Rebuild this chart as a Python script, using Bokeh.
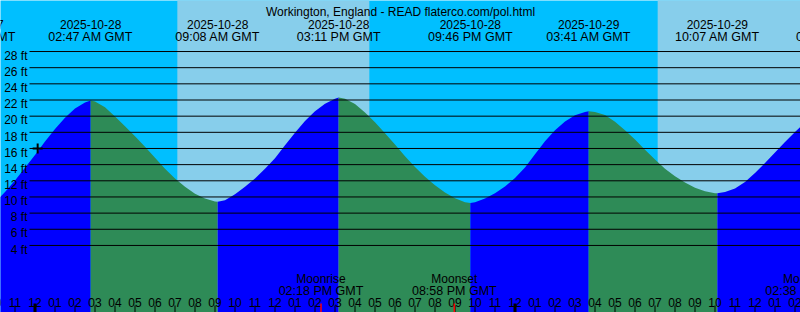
import pandas as pd
from bokeh.plotting import figure
from bokeh.models import Range1d
from bokeh.core.properties import value
from bokeh.embed import file_html
from bokeh.resources import INLINE

# ---------------- data ----------------
title_text = "Workington, England - READ flaterco.com/pol.html"
ref_time = pd.Timestamp("2025-10-28 00:00")

# tide height (ft) vs hours after 2025-10-28 00:00 GMT
tide_hours = [-2.0, -1.5, -1.0, -0.5, 0.0, 0.5, 1.0, 1.5, 2.0, 2.5, 2.783,
              3.0, 3.5, 4.0, 4.5, 5.0, 5.5, 6.0, 6.5, 7.0, 7.5, 8.0, 8.5, 9.0, 9.133,
              9.5, 10.0, 10.5, 11.0, 11.5, 12.0, 12.5, 13.0, 13.5, 14.0, 14.5, 15.0, 15.183,
              15.5, 16.0, 16.5, 17.0, 17.5, 18.0, 18.5, 19.0, 19.5, 20.0, 20.5, 21.0, 21.5, 21.767,
              22.0, 22.5, 23.0, 23.5, 24.0, 24.5, 25.0, 25.5, 26.0, 26.5, 27.0, 27.5, 27.683,
              28.0, 28.5, 29.0, 29.5, 30.0, 30.5, 31.0, 31.5, 32.0, 32.5, 33.0, 33.5, 34.0, 34.117,
              34.5, 35.0, 35.5, 36.0, 36.5, 37.0, 37.5, 38.0, 38.5]
tide_ft = [9.35, 10.6, 12.05, 13.6, 15.2, 16.85, 18.4, 19.8, 20.95, 21.7, 21.95,
           21.8, 21.1, 19.95, 18.75, 17.5, 16.2, 14.85, 13.5, 12.3, 11.25, 10.4, 9.8, 9.45, 9.4,
           9.6, 10.35, 11.25, 12.3, 13.5, 14.8, 16.4, 17.95, 19.4, 20.6, 21.55, 22.15, 22.3,
           22.15, 21.5, 20.45, 19.25, 17.9, 16.5, 15.05, 13.7, 12.5, 11.45, 10.55, 9.85, 9.35, 9.25,
           9.35, 9.8, 10.45, 11.3, 12.35, 13.65, 15.3, 16.9, 18.25, 19.35, 20.1, 20.5, 20.6,
           20.5, 20.15, 19.3, 18.25, 17.1, 15.85, 14.65, 13.5, 12.55, 11.8, 11.15, 10.7, 10.47, 10.45,
           10.6, 11.05, 11.85, 12.95, 14.2, 15.5, 16.8, 18.05, 19.2]

tide_event_times = ["2025-10-27 20:54", "2025-10-28 02:47", "2025-10-28 09:08",
                    "2025-10-28 15:11", "2025-10-28 21:46", "2025-10-29 03:41",
                    "2025-10-29 10:07", "2025-10-29 16:10"]

sunrise_times = ["2025-10-28 07:07", "2025-10-29 07:08"]
sunset_times = ["2025-10-28 16:43", "2025-10-29 16:41"]

moon_event_names = ["Moonrise", "Moonset", "Moonrise"]
moon_event_times = ["2025-10-28 14:18", "2025-10-28 20:58", "2025-10-29 14:38"]

depth_ticks = [4, 6, 8, 10, 12, 14, 16, 18, 20, 22, 24, 26, 28]
hour_ticks = list(range(-2, 40))

now_time = "2025-10-28 00:08"
now_ft = 16.0

# ---------------- layout constants ----------------
W, H = 800, 312
PX_PER_HOUR = 20.0
X0_PX = 34.5            # pixel of 2025-10-28 00:00
PX_PER_FT = 8.08
TOP_FT = 22 + 99.5 / PX_PER_FT
BOT_FT = TOP_FT - H / PX_PER_FT
LEFT_H = -X0_PX / PX_PER_HOUR
RIGHT_H = (W - X0_PX) / PX_PER_HOUR

NIGHT = "#00BFFF"
DAY = "#87CEEB"
FLOOD = "#0000FF"
EBB = "#2E8B57"
FONT = value("Liberation Sans")
FS = "12px"


def hrs(ts):
    return (pd.Timestamp(ts) - ref_time).total_seconds() / 3600.0


def px2h(px):
    return (px - X0_PX) / PX_PER_HOUR


def py2ft(py):
    return TOP_FT - py / PX_PER_FT


p = figure(width=W, height=H, x_range=Range1d(LEFT_H, RIGHT_H), y_range=Range1d(BOT_FT, TOP_FT),
           output_backend="svg", toolbar_location=None, min_border=0,
           x_axis_type=None, y_axis_type=None,
           background_fill_color=NIGHT, border_fill_color=NIGHT, outline_line_color=None)

# day shading
p.quad(left=[hrs(t) for t in sunrise_times], right=[hrs(t) for t in sunset_times],
       bottom=BOT_FT - 5, top=TOP_FT + 5, fill_color=DAY, line_color=None)

# tide fill: split into monotone runs
n = len(tide_ft)
runs = []
start = 0
for i in range(1, n - 1):
    if (tide_ft[i] - tide_ft[i - 1]) * (tide_ft[i + 1] - tide_ft[i]) < 0:
        runs.append((start, i))
        start = i
runs.append((start, n - 1))
for a, b in runs:
    col = FLOOD if tide_ft[b] > tide_ft[a] else EBB
    p.varea(x=tide_hours[a:b + 1], y1=[BOT_FT - 5] * (b - a + 1), y2=tide_ft[a:b + 1],
            fill_color=col)

# depth lines and labels
p.segment(x0=[px2h(29)] * len(depth_ticks), x1=[RIGHT_H + 1] * len(depth_ticks),
          y0=depth_ticks, y1=depth_ticks, line_color="black", line_width=1)
p.text(x=[px2h(27)] * len(depth_ticks), y=[d - 4.2 / PX_PER_FT for d in depth_ticks],
       text=[f"{d} ft" for d in depth_ticks], text_align="right", text_baseline="alphabetic",
       text_font=FONT, text_font_size=FS, text_color="black")

# title
p.text(x=[px2h(400)], y=[py2ft(11.7)], text=[title_text], text_align="center",
       text_baseline="alphabetic", text_font=FONT, text_font_size=FS, text_color="black")

# tide event labels
ev_h = [hrs(t) for t in tide_event_times]
ev_date = [pd.Timestamp(t).strftime("%Y-%m-%d") for t in tide_event_times]
ev_time = [pd.Timestamp(t).strftime("%I:%M %p GMT") for t in tide_event_times]
p.text(x=ev_h, y=[py2ft(24)] * len(ev_h), text=ev_date, text_align="center",
       text_baseline="alphabetic", text_font=FONT, text_font_size=FS, text_color="black")
p.text(x=ev_h, y=[py2ft(36)] * len(ev_h), text=ev_time, text_align="center",
       text_baseline="alphabetic", text_font=FONT, text_font_size="12.5px", text_color="black")

# moon event labels
mo_h = [hrs(t) for t in moon_event_times]
mo_time = [pd.Timestamp(t).strftime("%I:%M %p GMT") for t in moon_event_times]
p.text(x=mo_h, y=[py2ft(278.5)] * len(mo_h), text=moon_event_names, text_align="center",
       text_baseline="alphabetic", text_font=FONT, text_font_size=FS, text_color="black")
p.text(x=mo_h, y=[py2ft(290)] * len(mo_h), text=mo_time, text_align="center",
       text_baseline="alphabetic", text_font=FONT, text_font_size="12.5px", text_color="black")

# hour labels and ticks
hour_labels = [(ref_time + pd.Timedelta(hours=h)).strftime("%I") for h in hour_ticks]
p.text(x=hour_ticks, y=[py2ft(302.3)] * len(hour_ticks), text=hour_labels, text_align="center",
       text_baseline="alphabetic", text_font=FONT, text_font_size=FS, text_color="black")
reg = [h for h in hour_ticks if h % 24 != 0]
mid = [h for h in hour_ticks if h % 24 == 0]
p.segment(x0=reg, x1=reg, y0=[py2ft(305)] * len(reg), y1=[py2ft(313)] * len(reg),
          line_color="black", line_width=1)
p.segment(x0=mid, x1=mid, y0=[py2ft(303)] * len(mid), y1=[py2ft(313)] * len(mid),
          line_color="black", line_width=3)
p.segment(x0=mo_h, x1=mo_h, y0=[py2ft(303)] * len(mo_h), y1=[py2ft(313)] * len(mo_h),
          line_color="red", line_width=1.5)

# current time marker
p.scatter(x=[hrs(now_time)], y=[now_ft], marker="cross", size=10, line_width=2,
          line_color="black")

open("out.html", "w").write(file_html(p, INLINE))
